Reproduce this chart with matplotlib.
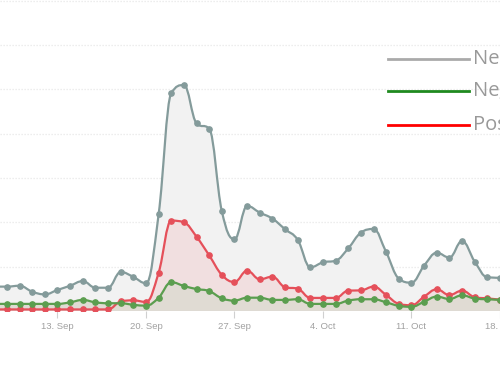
import numpy as np
import matplotlib
matplotlib.use("Agg")
import matplotlib.pyplot as plt
from matplotlib.path import Path
from matplotlib.patches import PathPatch
from matplotlib.lines import Line2D
import datetime as dt

# Daily values, 8 Sep .. 18 Oct
start = dt.date(2015, 9, 8)
neutral = [11.0, 11.0, 11.4, 8.7, 7.5, 9.5, 11.4, 13.5, 10.5, 10.5, 17.6, 15.4, 12.5,
           43.7, 98.3, 102.0, 84.7, 82.3, 45.0, 32.4, 47.4, 44.4, 41.7, 36.9, 32.1,
           19.7, 22.0, 22.7, 28.3, 35.4, 37.0, 26.5, 14.6, 12.8, 20.5, 26.3, 24.1,
           31.6, 22.3, 15.2, 15.0]
positive = [0.7, 0.7, 0.7, 0.7, 0.7, 0.7, 0.7, 0.7, 0.7, 0.7, 4.3, 4.8, 4.1,
            17.3, 40.8, 40.0, 33.5, 25.1, 16.3, 13.1, 18.2, 14.3, 15.5, 10.7, 10.1,
            5.9, 5.9, 5.9, 9.2, 9.3, 11.0, 7.2, 3.2, 2.6, 6.5, 9.8, 7.2,
            9.2, 6.2, 5.7, 5.1]
negative = [3.2, 3.2, 3.2, 3.2, 3.2, 3.2, 3.9, 5.0, 3.9, 3.5, 3.5, 2.8, 2.4,
            6.0, 13.0, 11.3, 9.9, 9.0, 5.7, 4.7, 6.0, 6.0, 5.0, 5.0, 5.3,
            3.2, 3.2, 3.2, 4.7, 5.3, 5.3, 3.9, 2.3, 1.9, 4.2, 6.5, 5.4,
            7.1, 5.6, 5.3, 5.0]
legend_labels = ["Neutral", "Negative", "Positive"]
tick_labels = ["13. Sep", "20. Sep", "27. Sep", "4. Oct", "11. Oct", "18. Oct"]

n = len(neutral)
xs = np.arange(n) - 1.0   # 0 == 9 Sep
tick_pos = [4, 11, 18, 25, 32, 39]


def spline_path(x, y, close_base=None):
    x = np.asarray(x, float)
    y = np.asarray(y, float)
    sm, den = 1.5, 2.5
    m = len(x)
    lc = [None] * m
    rc = [None] * m
    for i in range(m):
        if 0 < i < m - 1:
            lx = (sm * x[i] + x[i - 1]) / den
            ly = (sm * y[i] + y[i - 1]) / den
            rx = (sm * x[i] + x[i + 1]) / den
            ry = (sm * y[i] + y[i + 1]) / den
            corr = ((ry - ly) * (rx - x[i])) / (rx - lx) + y[i] - ry
            ly += corr
            ry += corr
            if ly > max(y[i - 1], y[i]):
                ly = max(y[i - 1], y[i]); ry = 2 * y[i] - ly
            elif ly < min(y[i - 1], y[i]):
                ly = min(y[i - 1], y[i]); ry = 2 * y[i] - ly
            if ry > max(y[i + 1], y[i]):
                ry = max(y[i + 1], y[i]); ly = 2 * y[i] - ry
            elif ry < min(y[i + 1], y[i]):
                ry = min(y[i + 1], y[i]); ly = 2 * y[i] - ry
            lc[i] = (lx, ly)
            rc[i] = (rx, ry)
        else:
            lc[i] = (x[i], y[i])
            rc[i] = (x[i], y[i])
    verts = [(x[0], y[0])]
    codes = [Path.MOVETO]
    for i in range(1, m):
        verts += [rc[i - 1], lc[i], (x[i], y[i])]
        codes += [Path.CURVE4] * 3
    if close_base is not None:
        verts += [(x[-1], close_base), (x[0], close_base), (x[0], y[0])]
        codes += [Path.LINETO, Path.LINETO, Path.CLOSEPOLY]
    return Path(verts, codes)


fig = plt.figure(figsize=(5.0, 3.66), dpi=100)
ax = fig.add_axes([0, 0.1503, 1, 0.8497])
ax.set_xlim(-0.547, 38.52)
ax.set_ylim(0, 140.4)

for v in range(20, 141, 20):
    ax.axhline(v, color="#e8e8e8", lw=0.9, ls=(0, (1.0, 1.4)), zorder=0)

series = [
    (neutral, "#f2f2f2", "#849b9b"),
    (positive, "#f1dfe0", "#e5505a"),
    (negative, "#e0dbd3", "#5b9e4f"),
]
for vals, fc, lc_ in series:
    ax.add_patch(PathPatch(spline_path(xs, vals, close_base=0), facecolor=fc,
                           edgecolor="none", zorder=1))
for k, (vals, fc, lc_) in enumerate(series):
    ax.add_patch(PathPatch(spline_path(xs, vals), facecolor="none", edgecolor=lc_,
                           lw=1.6, zorder=3 + k, capstyle="round", joinstyle="round"))
    ax.plot(xs, vals, ls="none", marker="o", ms=3.8, color=lc_, zorder=3 + k)

ax.axhline(0, color="#d8d8d8", lw=1.0, zorder=2)

for s in ax.spines.values():
    s.set_visible(False)
ax.set_yticks([])
ax.set_xticks(tick_pos)
ax.set_xticklabels(tick_labels, family="Liberation Sans")
ax.tick_params(axis="x", length=5, width=0.8, color="#d0d0d0", labelsize=6.8,
               labelcolor="#a0a0a0", pad=3)

# legend (manually placed, partially outside figure as in the reference crop)
leg_colors = ["#aaaaaa", "#1f8a1f", "#ff0000"]
leg_y = [58.7, 91.0, 124.7]
for lab, c, yy in zip(legend_labels, leg_colors, leg_y):
    yf = 1 - yy / 366.0
    fig.add_artist(Line2D([388 / 500, 469 / 500], [yf, yf], color=c, lw=2.0,
                          transform=fig.transFigure))
    fig.text(473 / 500, yf, lab, color="#999999", fontsize=14.5, family="Open Sans",
             va="center", ha="left")

fig.savefig("out.png", dpi=100)
